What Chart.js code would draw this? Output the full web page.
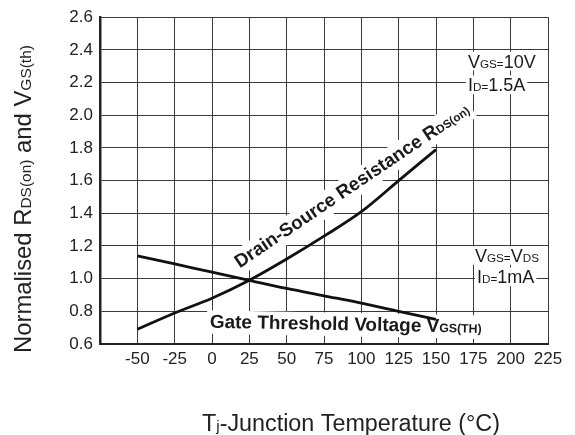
<!DOCTYPE html>
<html><head><meta charset="utf-8">
<script src="https://cdn.jsdelivr.net/npm/chart.js@4.4.0/dist/chart.umd.min.js"></script>
<style>html,body{margin:0;padding:0;background:#fff;}#wrap{width:575px;height:435px;}</style>
</head><body><div id="wrap"><canvas id="c" width="575" height="435"></canvas></div>
<script>
// ---- data ----
const temperatures = [-50, -25, 0, 25, 50, 75, 100, 125, 150];
const rdsOnNorm    = [0.69, 0.79, 0.88, 0.99, 1.12, 1.26, 1.41, 1.60, 1.79];
const vgsThNorm    = [1.14, 1.09, 1.04, 0.99, 0.94, 0.895, 0.85, 0.80, 0.75];
const xTickValues  = [-75, -50, -25, 0, 25, 50, 75, 100, 125, 150, 175, 200, 225];
const xTickLabels  = ['', '-50', '-25', '0', '25', '50', '75', '100', '125', '150', '175', '200', '225'];
const yTickValues  = [0.6, 0.8, 1.0, 1.2, 1.4, 1.6, 1.8, 2.0, 2.2, 2.4, 2.6];
const yTickLabels  = ['0.6', '0.8', '1.0', '1.2', '1.4', '1.6', '1.8', '2.0', '2.2', '2.4', '2.6'];

const FAM = '"Liberation Sans", Arial, Helvetica, sans-serif';
const INK = '#1a1a1a';

function setFont(ctx, size, bold) { ctx.font = (bold ? 'bold ' : '') + size.toFixed(2) + 'px ' + FAM; }
function richWidth(ctx, parts, base, bold) {
  let w = 0;
  for (const p of parts) { setFont(ctx, base * p.k, bold); w += ctx.measureText(p.t).width; }
  return w;
}
function drawRich(ctx, parts, x, y, base, bold) {
  ctx.textBaseline = 'alphabetic'; ctx.textAlign = 'left';
  for (const p of parts) {
    setFont(ctx, base * p.k, bold);
    ctx.fillText(p.t, x, y);
    x += ctx.measureText(p.t).width;
  }
}
function fitBase(ctx, parts, target, bold) { return target / richWidth(ctx, parts, 100, bold) * 100; }

const S = 0.65; // subscript size ratio
const annotations = {
  id: 'annotations',
  beforeDatasetsDraw(chart) {
    const ctx = chart.ctx, xs = chart.scales.x, ys = chart.scales.y;
    ctx.save();
    ctx.fillStyle = INK;

    // condition labels (plain)
    const condLines = [
      { parts: [{t:'V',k:1},{t:'GS=',k:S},{t:'10V',k:1}], x: 171.4, y: 2.292 },
      { parts: [{t:'I',k:1},{t:'D=',k:S},{t:'1.5A',k:1}], x: 171.4, y: 2.147 },
      { parts: [{t:'V',k:1},{t:'GS=',k:S},{t:'V',k:1},{t:'DS',k:S}], x: 176.1, y: 1.103 },
      { parts: [{t:'I',k:1},{t:'D=',k:S},{t:'1mA',k:1}], x: 177.5, y: 0.972 }
    ];
    const cb = 18;
    for (const L of condLines) {
      const px = xs.getPixelForValue(L.x), py = ys.getPixelForValue(L.y);
      const w = richWidth(ctx, L.parts, cb, false);
      ctx.fillStyle = '#fff';
      ctx.fillRect(px - 2, py - cb * 0.76 - 2, w + 4, cb * 0.76 + 5);
      ctx.fillStyle = INK;
      drawRich(ctx, L.parts, px, py, cb, false);
    }

    // Drain-Source Resistance (rotated, bold)
    {
      const parts = [{t:'Drain-Source Resistance R',k:1},{t:'DS(on)',k:0.62}];
      const base = fitBase(ctx, parts, 279, true);
      const w = richWidth(ctx, parts, base, true);
      ctx.save();
      ctx.translate(xs.getPixelForValue(18.5), ys.getPixelForValue(1.062));
      ctx.rotate(-34 * Math.PI / 180);
      ctx.fillStyle = '#fff';
      ctx.fillRect(-3, -base * 0.78 - 3, w + 6, base * 0.78 + base * 0.22 + 6);
      ctx.fillStyle = INK;
      drawRich(ctx, parts, 0, 0, base, true);
      ctx.restore();
    }

    // Gate Threshold Voltage (bold, nearly horizontal)
    {
      const parts = [{t:'Gate Threshold Voltage V',k:1},{t:'GS(TH)',k:S}];
      const base = fitBase(ctx, parts, 272, true);
      const w = richWidth(ctx, parts, base, true);
      ctx.save();
      ctx.translate(xs.getPixelForValue(-1.5), ys.getPixelForValue(0.70));
      ctx.rotate(1.1 * Math.PI / 180);
      ctx.fillStyle = '#fff';
      ctx.fillRect(-3, -base * 0.76 - 3, w + 6, base * 0.76 + base * 0.22 + 5);
      ctx.fillStyle = INK;
      drawRich(ctx, parts, 0, 0, base, true);
      ctx.restore();
    }
    ctx.restore();
  },
  afterDraw(chart) {
    const ctx = chart.ctx;
    ctx.save();
    ctx.fillStyle = '#222';
    // y-axis title
    {
      const parts = [{t:'Normalised R',k:1},{t:'DS(on)',k:S},{t:' and V',k:1},{t:'GS(th)',k:S}];
      const base = fitBase(ctx, parts, 308, false);
      const w = richWidth(ctx, parts, base, false);
      ctx.save();
      ctx.translate(31, 199);
      ctx.rotate(-Math.PI / 2);
      drawRich(ctx, parts, -w / 2, 0, base, false);
      ctx.restore();
    }
    // x-axis title
    {
      const parts = [{t:'T',k:1},{t:'j',k:S},{t:'-Junction Temperature (°C)',k:1}];
      const base = fitBase(ctx, parts, 298, false);
      const w = richWidth(ctx, parts, base, false);
      drawRich(ctx, parts, 351 - w / 2, 431, base, false);
    }
    ctx.restore();
  }
};

const toPts = (xsArr, ysArr) => xsArr.map((t, i) => ({ x: t, y: ysArr[i] }));

new Chart(document.getElementById('c'), {
  type: 'line',
  data: {
    datasets: [
      { label: 'RDS(on)', data: toPts(temperatures, rdsOnNorm), borderColor: '#111', borderWidth: 2.8,
        pointRadius: 0, cubicInterpolationMode: 'monotone', fill: false },
      { label: 'VGS(th)', data: toPts(temperatures, vgsThNorm), borderColor: '#111', borderWidth: 2.8,
        pointRadius: 0, cubicInterpolationMode: 'monotone', fill: false }
    ]
  },
  options: {
    responsive: false, animation: false, devicePixelRatio: 1,
    layout: { padding: { top: 13, right: 27, left: 0, bottom: 0 } },
    plugins: { legend: { display: false }, tooltip: { enabled: false } },
    scales: {
      x: {
        type: 'linear', min: -75, max: 225,
        afterBuildTicks: s => { s.ticks = xTickValues.map(v => ({ value: v })); },
        afterFit: s => { s.height = 91; },
        ticks: {
          autoSkip: false, maxRotation: 0, padding: 5, color: '#222',
          font: { family: FAM, size: 17 },
          callback: v => { const i = xTickValues.indexOf(v); return i >= 0 ? xTickLabels[i] : ''; }
        },
        grid: { color: '#3a3a3a', lineWidth: 1, drawTicks: false },
        border: { color: '#222', width: 2 }
      },
      y: {
        min: 0.6, max: 2.6,
        afterBuildTicks: s => { s.ticks = yTickValues.map(v => ({ value: v })); },
        afterFit: s => { s.width = 100; },
        ticks: {
          padding: 7, color: '#222',
          font: { family: FAM, size: 17 },
          callback: v => { const i = yTickValues.findIndex(t => Math.abs(t - v) < 1e-6); return i >= 0 ? yTickLabels[i] : ''; }
        },
        grid: { color: '#3a3a3a', lineWidth: 1, drawTicks: false },
        border: { color: '#222', width: 2.5 }
      }
    }
  },
  plugins: [annotations]
});
</script>
</body></html>
